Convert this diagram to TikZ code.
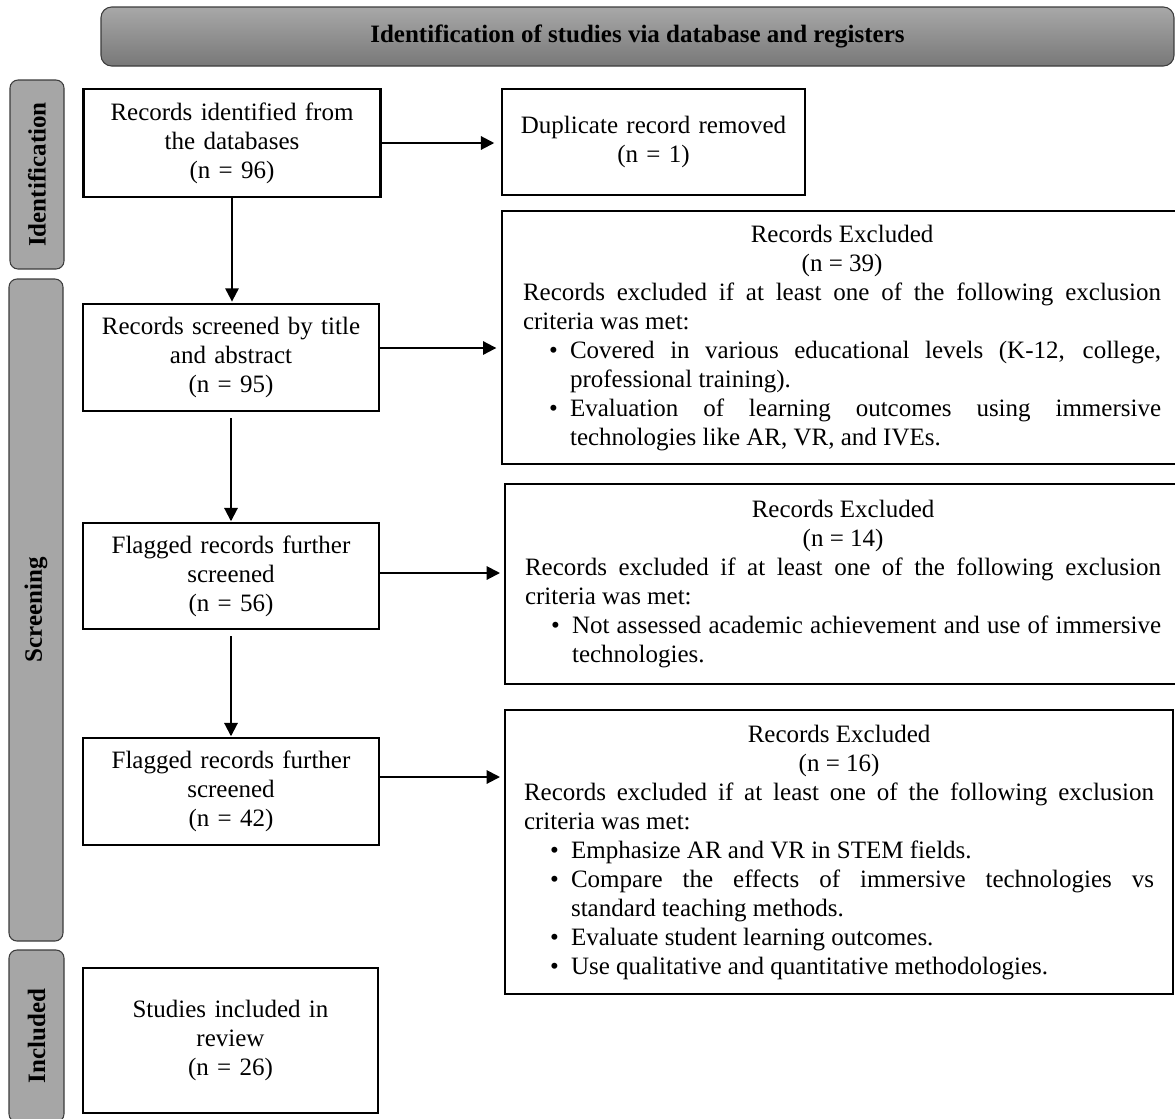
\documentclass[tikz,border=0pt]{standalone}
\usepackage{fontspec}
\setmainfont{Liberation Serif}
\usetikzlibrary{arrows.meta}
\definecolor{hdtop}{RGB}{168,168,168}
\definecolor{hdbot}{RGB}{120,120,120}
\definecolor{labfill}{RGB}{166,166,166}
\definecolor{labborder}{RGB}{60,60,60}
\newcommand{\bitem}[1]{\par\noindent\hangindent=35.25pt\hangafter=1\hspace*{19.5pt}\makebox[15.75pt][l]{•}#1\par}
\begin{document}
\begin{tikzpicture}[x=0.75pt,y=-0.75pt,
  basefont/.style={font=\fontsize{18.75pt}{21.75pt}\selectfont},
  box/.style={basefont, draw=black, line width=1.6pt, rectangle, inner xsep=6pt, inner ysep=0pt, align=center},
  excl/.style={basefont, draw=black, line width=1.6pt, rectangle, inner ysep=0pt, align=justify, anchor=north west,
    execute at begin node={\parindent=0pt\hyphenpenalty=10000\exhyphenpenalty=10000\tolerance=9000\emergencystretch=20pt}},
  side/.style={draw=labborder, line width=0.8pt, fill=labfill, rounded corners=6pt, rotate=90, inner sep=0pt,
    font=\fontsize{18.75pt}{21.75pt}\selectfont\bfseries},
  arr/.style={line width=1.5pt, -{Triangle[length=10pt,width=10pt]}}]
\useasboundingbox (0,0) rectangle (1175,1118);
\clip (0,0) rectangle (1175,1118);

% header
\node[draw=labborder, line width=0.8pt, rounded corners=8pt, top color=hdtop, bottom color=hdbot,
  minimum width=1073*0.75pt, minimum height=59*0.75pt, inner sep=0pt,
  font=\fontsize{18.75pt}{21.75pt}\selectfont\bfseries] (hdr) at (637.5,36.5)
  {Identification of studies via database and registers};

% side labels
\node[side, minimum width=189*0.75pt, minimum height=54*0.75pt] (lid) at (37,174.5) {Identification};
\node[side, minimum width=662*0.75pt, minimum height=54*0.75pt] (lsc) at (36,610) {Screening};
\node[side, minimum width=172*0.75pt, minimum height=55*0.75pt] (lin) at (36.5,1036) {Included};

% left column
\node[box, text width=281*0.75pt, minimum height=108*0.75pt] (b1) at (232,143)
  {Records identified from\\the databases\\(n = 96)};
\node[box, text width=280*0.75pt, minimum height=107*0.75pt] (b2) at (231,357.5)
  {Records screened by title\\and abstract\\(n = 95)};
\node[box, text width=280*0.75pt, minimum height=106*0.75pt] (b3) at (231,576)
  {Flagged records further\\screened\\(n = 56)};
\node[box, text width=280*0.75pt, minimum height=107*0.75pt] (b4) at (231,791.5)
  {Flagged records further\\screened\\(n = 42)};
\node[box, text width=279*0.75pt, minimum height=145*0.75pt] (b5) at (230.5,1040.5)
  {Studies included in\\review\\(n = 26)};

% right column
\node[box, text width=287*0.75pt, minimum height=106*0.75pt] (dup) at (653.5,142)
  {Duplicate record removed\\(n = 1)};

\node[excl, text width=638*0.75pt, inner xsep=21*0.75pt, minimum height=253*0.75pt] (ex1) at (501,210)
  {{\centering Records Excluded\par (n = 39)\par}
   Records excluded if at least one of the following exclusion criteria was met:
   \bitem{Covered in various educational levels (K-12, college, professional training).}
   \bitem{Evaluation of learning outcomes using immersive technologies like AR, VR, and IVEs.}};

\node[excl, text width=636*0.75pt, inner xsep=20*0.75pt, minimum height=200*0.75pt] (ex2) at (504,483)
  {{\centering Records Excluded\par (n = 14)\par}
   Records excluded if at least one of the following exclusion criteria was met:
   \bitem{Not assessed academic achievement and use of immersive technologies.}};

\node[excl, text width=630*0.75pt, inner xsep=19*0.75pt, minimum height=284*0.75pt] (ex3) at (504,709)
  {{\centering Records Excluded\par (n = 16)\par}
   Records excluded if at least one of the following exclusion criteria was met:
   \bitem{Emphasize AR and VR in STEM fields.}
   \bitem{Compare the effects of immersive technologies vs\linebreak standard teaching methods.}
   \bitem{Evaluate student learning outcomes.}
   \bitem{Use qualitative and quantitative methodologies.}};

% helper coordinates for arrow heights
\coordinate (y2) at (0,348);
\coordinate (y3) at (0,573);
\coordinate (y4) at (0,777);

% connectors
\draw[arr, shorten >=5pt] (b1.east) -- (b1.east -| dup.west);
\draw[arr, shorten >=1pt] (b1.south) -- (b1.south |- b2.north);
\draw[arr, shorten >=3.5pt] (b2.east |- y2) -- (ex1.west |- y2);
\draw[arr, shorten <=4.5pt, shorten >=0.5pt] (b2.south) -- (b3.north);
\draw[arr, shorten >=3pt] (b3.east |- y3) -- (ex2.west |- y3);
\draw[arr, shorten <=4.5pt, shorten >=0.5pt] (b3.south) -- (b4.north);
\draw[arr, shorten >=3pt] (b4.east |- y4) -- (ex3.west |- y4);
\end{tikzpicture}
\end{document}
